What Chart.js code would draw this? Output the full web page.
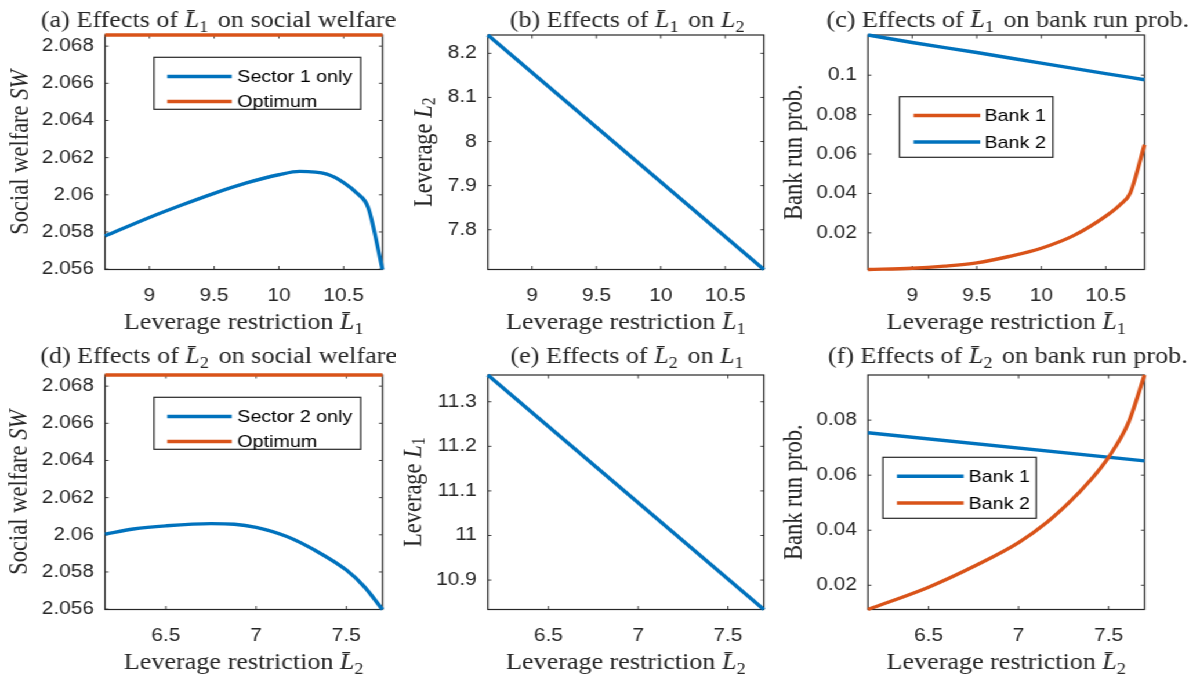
<!DOCTYPE html>
<html><head><meta charset="utf-8">
<script src="https://cdn.jsdelivr.net/npm/chart.js@4.4.1/dist/chart.umd.min.js"></script>
<style>
html,body{margin:0;padding:0;background:#fff;overflow:hidden;width:1199px;height:681px;}
#stage{position:absolute;left:0;top:0;width:1034px;height:681px;transform-origin:0 0;transform:scaleX(1.16);}
#stage canvas{position:absolute;}
</style></head><body><div id="stage"></div>
<script>
// ---------------- data ----------------
const xTicksTop = [9, 9.5, 10, 10.5];
const xTicksBottom = [6.5, 7, 7.5];
const yTicksWelfare = [2.056, 2.058, 2.06, 2.062, 2.064, 2.066, 2.068];
const yTicksL2 = [7.8, 7.9, 8, 8.1, 8.2];
const yTicksL1 = [10.9, 11, 11.1, 11.2, 11.3];
const yTicksProbC = [0.02, 0.04, 0.06, 0.08, 0.1];
const yTicksProbF = [0.02, 0.04, 0.06, 0.08];

// (a) effects of L1bar on social welfare
const xA = [8.657, 9.0, 9.25, 9.5, 9.75, 10.0, 10.16, 10.37, 10.5, 10.6, 10.69, 10.8];
const sector1SW = [2.05778, 2.05878, 2.05945, 2.06008, 2.06064, 2.06108, 2.06126, 2.06111, 2.06066, 2.0601, 2.0593, 2.05598];
const xOptA = [8.657, 10.8];
const optimumA = [2.0686, 2.0686];
// (b) effects of L1bar on L2
const xB = [8.657, 10.8];
const leverageL2 = [8.2416, 7.7098];
// (c) effects of L1bar on bank run prob.
const xC1 = [8.657, 9.0, 9.25, 9.5, 9.75, 10.0, 10.25, 10.5, 10.61, 10.69, 10.8];
const bank1C = [0.0014, 0.0020, 0.0031, 0.0048, 0.0080, 0.0122, 0.0186, 0.0285, 0.0342, 0.0403, 0.0647];
const xC2 = [8.657, 9.0, 9.5, 10.0, 10.5, 10.8];
const bank2C = [0.1204, 0.1166, 0.1115, 0.1061, 0.1008, 0.0977];
// (d) effects of L2bar on social welfare
const xD = [6.163, 6.32, 6.5, 6.75, 6.88, 7.0, 7.17, 7.32, 7.5, 7.6, 7.70];
const sector2SW = [2.06004, 2.06031, 2.06048, 2.0606, 2.06057, 2.0604, 2.05991, 2.0592, 2.0581, 2.0572, 2.05598];
const xOptD = [6.163, 7.70];
const optimumD = [2.0686, 2.0686];
// (e) effects of L2bar on L1
const xE = [6.163, 7.70];
const leverageL1 = [11.36, 10.834];
// (f) effects of L2bar on bank run prob.
const xF1 = [6.163, 7.70];
const bank1F = [0.0754, 0.0652];
const xF2 = [6.163, 6.5, 6.75, 7.0, 7.16, 7.28, 7.39, 7.5, 7.61, 7.70];
const bank2F = [0.0112, 0.0193, 0.0268, 0.0355, 0.0430, 0.0500, 0.0575, 0.0665, 0.0790, 0.0964];

// ---------------- layout / style ----------------
const S = 1.16;                     // horizontal stretch of the figure
const BLUE = '#0072BD', ORANGE = '#D95319';
const COLS = [0, 395, 770], COLW = [395, 375, 429];
const ROWS = [0, 340], ROWH = [340, 341];
const SERIF = '"Liberation Serif", "Times New Roman", serif';
const SANS = '"Liberation Sans", Arial, sans-serif';
const LB = 'L\u0304';

const topX = [['Leverage restriction ', ''], [LB, 'i'], ['1', 's']];
const botX = [['Leverage restriction ', ''], [LB, 'i'], ['2', 's']];

const panels = [
  {id:'a', col:0, row:0, area:[105,382.5,35,269.5], xr:[8.657,10.8], yr:[2.05598,2.0686], xt:xTicksTop, yt:yTicksWelfare,
   series:[{label:'Sector 1 only', x:xA, y:sector1SW, c:BLUE},{label:'Optimum', x:xOptA, y:optimumA, c:ORANGE}],
   title:[['(a) Effects of ',''],[LB,'i'],['1','s'],[' on social welfare','']], titleX:217, titleY:27,
   xlabel:topX, ylabel:[['Social welfare ',''],['SW','i']], ylabelX:20.5,
   legend:{box:[154,360.7,57.3,109.3], line:[167.3,231.7], text:237.3, rows:[76.5,101.5]}},
  {id:'b', col:1, row:0, area:[487.3,763.3,35,269.5], xr:[8.657,10.8], yr:[7.7098,8.2416], xt:xTicksTop, yt:yTicksL2,
   series:[{label:'L2', x:xB, y:leverageL2, c:BLUE}],
   title:[['(b) Effects of ',''],[LB,'i'],['1','s'],[' on ',''],['L','i'],['2','s']], titleX:625, titleY:27,
   xlabel:topX, ylabel:[['Leverage ',''],['L','i'],['2','s']], ylabelX:424},
  {id:'c', col:2, row:0, area:[867.7,1144.3,35,269.5], xr:[8.657,10.8], yr:[0.0014,0.1204], xt:xTicksTop, yt:yTicksProbC,
   series:[{label:'Bank 1', x:xC1, y:bank1C, c:ORANGE},{label:'Bank 2', x:xC2, y:bank2C, c:BLUE}],
   title:[['(c) Effects of ',''],[LB,'i'],['1','s'],[' on bank run prob.','']], titleX:1006, titleY:27,
   xlabel:topX, ylabel:[['Bank run prob.','']], ylabelX:794,
   legend:{box:[899.3,1052.7,96.7,157.3], line:[913.3,980], text:984.3, rows:[115.5,142]}},
  {id:'d', col:0, row:1, area:[105,382.5,35,269.5], xr:[6.163,7.70], yr:[2.05598,2.0686], xt:xTicksBottom, yt:yTicksWelfare,
   series:[{label:'Sector 2 only', x:xD, y:sector2SW, c:BLUE},{label:'Optimum', x:xOptD, y:optimumD, c:ORANGE}],
   title:[['(d) Effects of ',''],[LB,'i'],['2','s'],[' on social welfare','']], titleX:217, titleY:23,
   xlabel:botX, ylabel:[['Social welfare ',''],['SW','i']], ylabelX:19.5,
   legend:{box:[154,360.7,57.3,109.3], line:[167.3,231.7], text:237.3, rows:[76.5,101.5]}},
  {id:'e', col:1, row:1, area:[487.3,763.3,35,269.5], xr:[6.163,7.70], yr:[10.834,11.36], xt:xTicksBottom, yt:yTicksL1,
   series:[{label:'L1', x:xE, y:leverageL1, c:BLUE}],
   title:[['(e) Effects of ',''],[LB,'i'],['2','s'],[' on ',''],['L','i'],['1','s']], titleX:625, titleY:23,
   xlabel:botX, ylabel:[['Leverage ',''],['L','i'],['1','s']], ylabelX:414},
  {id:'f', col:2, row:1, area:[867.7,1144.3,35,269.5], xr:[6.163,7.70], yr:[0.0112,0.0964], xt:xTicksBottom, yt:yTicksProbF,
   series:[{label:'Bank 1', x:xF1, y:bank1F, c:BLUE},{label:'Bank 2', x:xF2, y:bank2F, c:ORANGE}],
   title:[['(f) Effects of ',''],[LB,'i'],['2','s'],[' on bank run prob.','']], titleX:1006, titleY:23,
   xlabel:botX, ylabel:[['Bank run prob.','']], ylabelX:794,
   legend:{box:[882.7,1036,117.3,178.3], line:[896.7,963.3], text:968.3, rows:[136.3,163]}}
];

const DECO = {};

function fontFor(st, size) {
  if (st === 'i') return `italic ${size}px ${SERIF}`;
  if (st === 's') return `${(size*0.7).toFixed(1)}px ${SERIF}`;
  return `${size}px ${SERIF}`;
}
function drawRich(ctx, parts, x, y, size, rotate, baseline) {
  ctx.save();
  ctx.translate(x, y);
  if (rotate) ctx.rotate(-Math.PI/2);
  ctx.textBaseline = baseline || 'alphabetic';
  ctx.textAlign = 'left';
  ctx.fillStyle = '#262626';
  const ws = parts.map(p => { ctx.font = fontFor(p[1], size); return ctx.measureText(p[0]).width; });
  const total = ws.reduce((s, w) => s + w, 0);
  let cx = -total/2;
  parts.forEach((p, i) => {
    ctx.font = fontFor(p[1], size);
    ctx.fillText(p[0], cx, p[1] === 's' ? size*0.22 : 0);
    cx += ws[i] + (p[1] === 's' ? size*0.12 : 0);
  });
  ctx.restore();
}

const decoPlugin = {
  id: 'deco',
  beforeDatasetsDraw(chart) {
    const d = DECO[chart.canvas.id]; if (!d) return;
    const ctx = chart.ctx, a = chart.chartArea;
    const xs = chart.scales.x, ys = chart.scales.y;
    ctx.save();
    ctx.strokeStyle = '#404040'; ctx.lineWidth = 1;
    const tl = 3.5;
    ctx.beginPath();
    xs.ticks.forEach(t => { const px = xs.getPixelForValue(t.value);
      ctx.moveTo(px, a.bottom); ctx.lineTo(px, a.bottom - tl);
      ctx.moveTo(px, a.top); ctx.lineTo(px, a.top + tl); });
    ys.ticks.forEach(t => { const py = ys.getPixelForValue(t.value);
      ctx.moveTo(a.left, py); ctx.lineTo(a.left + tl/S, py);
      ctx.moveTo(a.right, py); ctx.lineTo(a.right - tl/S, py); });
    ctx.stroke();
    ctx.strokeStyle = '#262626'; ctx.lineWidth = 1.2;
    ctx.strokeRect(a.left, a.top, a.right - a.left, a.bottom - a.top);
    ctx.restore();
  },
  afterDatasetsDraw(chart) {
    const d = DECO[chart.canvas.id]; if (!d || !d.legend) return;
    const ctx = chart.ctx, lg = d.legend, lx = d.lx;
    const ds = chart.data.datasets;
    ctx.save();
    const bx0 = lx(lg.box[0]), bx1 = lx(lg.box[1]);
    ctx.fillStyle = '#fff';
    ctx.fillRect(bx0, lg.box[2], bx1 - bx0, lg.box[3] - lg.box[2]);
    ctx.strokeStyle = '#262626'; ctx.lineWidth = 1.2;
    ctx.strokeRect(bx0, lg.box[2], bx1 - bx0, lg.box[3] - lg.box[2]);
    ds.forEach((s, k) => {
      const y = lg.rows[k];
      ctx.strokeStyle = s.borderColor; ctx.lineWidth = 3.4; ctx.lineCap = 'butt';
      ctx.beginPath(); ctx.moveTo(lx(lg.line[0]), y); ctx.lineTo(lx(lg.line[1]), y); ctx.stroke();
      ctx.fillStyle = '#000'; ctx.font = `17px ${SANS}`; ctx.textBaseline = 'middle'; ctx.textAlign = 'left';
      ctx.fillText(s.label, lx(lg.text), y + 1);
    });
    ctx.restore();
  },
  afterDraw(chart) {
    const d = DECO[chart.canvas.id]; if (!d) return;
    const ctx = chart.ctx, a = chart.chartArea, lx = d.lx;
    drawRich(ctx, d.title, lx(d.titleX), d.titleY, 22.5, false);
    drawRich(ctx, d.xlabel, (a.left + a.right)/2, 329, 22.5, false);
    drawRich(ctx, d.ylabel, lx(d.ylabelX), (a.top + a.bottom)/2, 22.5, true, 'middle');
  }
};

const fmt = v => String(+(+v).toFixed(4));
const stage = document.getElementById('stage');

panels.forEach(p => {
  const cv = document.createElement('canvas');
  const cw = Math.ceil(COLW[p.col] / S), ch = ROWH[p.row];
  cv.width = cw; cv.height = ch; cv.id = 'cv_' + p.id;
  cv.style.left = (COLS[p.col] / S) + 'px';
  cv.style.top = ROWS[p.row] + 'px';
  cv.style.width = cw + 'px'; cv.style.height = ch + 'px';
  stage.appendChild(cv);
  const lx = v => (v - COLS[p.col]) / S;
  const [L, R, T, B] = p.area;
  DECO[cv.id] = {title:p.title, titleX:p.titleX, titleY:p.titleY, xlabel:p.xlabel, ylabel:p.ylabel,
                 ylabelX:p.ylabelX, legend:p.legend, lx};
  const tickFont = {family: SANS, size: 18};
  new Chart(cv, {
    type: 'line',
    data: {
      datasets: p.series.map((s, i) => ({
        label: s.label,
        data: s.x.map((xv, j) => ({x: xv, y: s.y[j]})),
        borderColor: s.c, backgroundColor: s.c,
        borderWidth: 3.4, pointRadius: 0, fill: false,
        cubicInterpolationMode: s.x.length > 2 ? 'monotone' : 'default', tension: 0,
        clip: 4, order: -i
      }))
    },
    options: {
      responsive: false, animation: false, events: [], devicePixelRatio: 1,
      layout: {padding: {left: 0, top: T, right: cw - lx(R), bottom: 0}},
      plugins: {legend: {display: false}, tooltip: {enabled: false}, title: {display: false}},
      scales: {
        x: {type: 'linear', min: p.xr[0], max: p.xr[1],
            grid: {display: false, drawTicks: false}, border: {display: false},
            afterBuildTicks: sc => { sc.ticks = p.xt.map(v => ({value: v})); },
            afterFit: sc => { sc.height = ch - B; },
            ticks: {font: tickFont, color: '#262626', padding: 16, maxRotation: 0, autoSkip: false, callback: fmt}},
        y: {type: 'linear', min: p.yr[0], max: p.yr[1],
            grid: {display: false, drawTicks: false}, border: {display: false},
            afterBuildTicks: sc => { sc.ticks = p.yt.map(v => ({value: v})); },
            afterFit: sc => { sc.width = lx(L); },
            ticks: {font: tickFont, color: '#262626', padding: 9.5, autoSkip: false, callback: fmt}}
      }
    },
    plugins: [decoPlugin]
  });
});
</script>
</body></html>
